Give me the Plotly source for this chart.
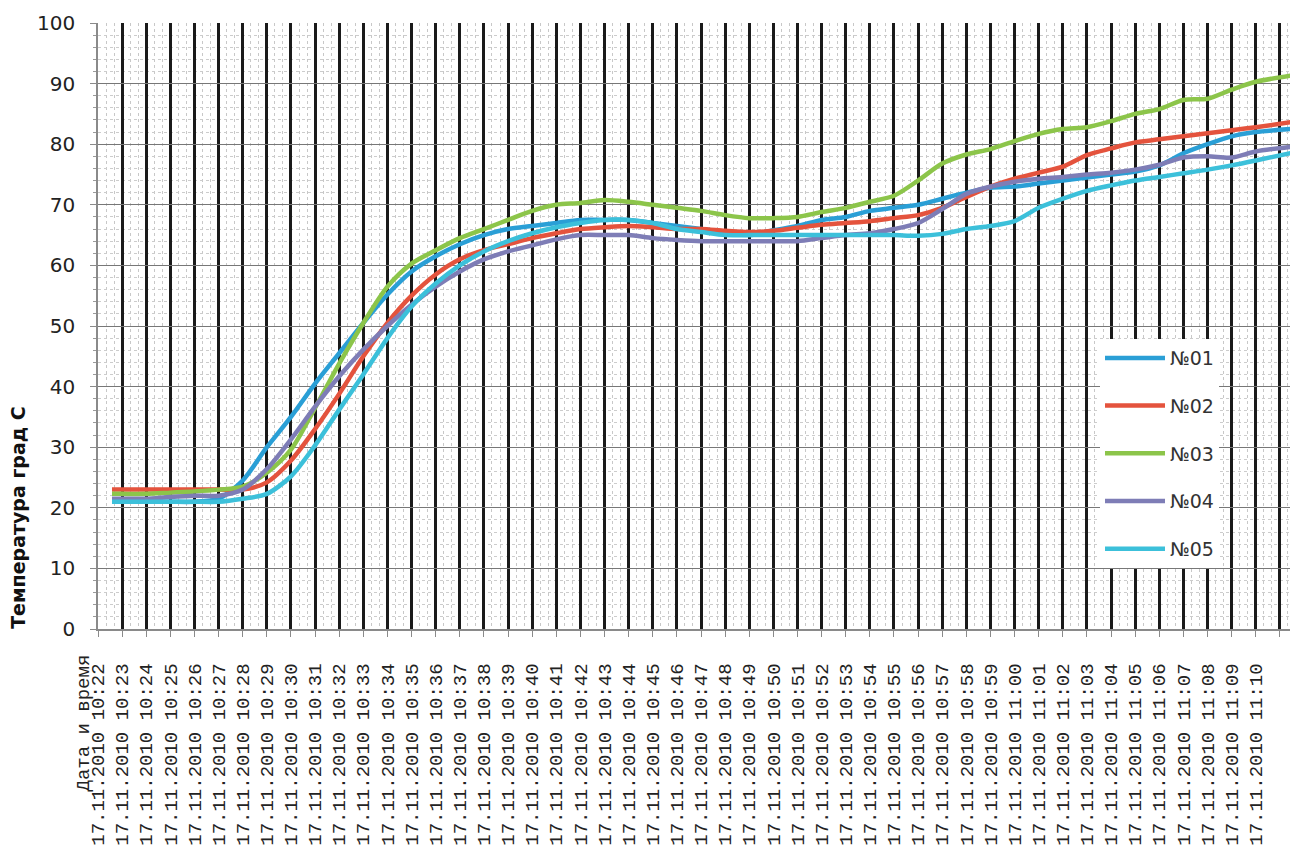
import plotly.graph_objects as go

# category labels (one per minute, 10:22 .. 11:10)
time_labels = ["17.11.2010 10:%02d" % m for m in range(22, 60)] + \
              ["17.11.2010 11:%02d" % m for m in range(0, 11)]
header_label = "Дата и время"

# sample positions (minutes after 10:22) at which the curves were read
sample_pos = [0.58, 1, 2, 3, 4, 5, 6, 7, 8, 9, 10, 11, 12, 13, 14, 15, 16, 17, 18, 19,
              20, 21, 22, 23, 24, 25, 26, 27, 28, 29, 30, 31, 32, 33, 34, 35, 36, 37, 38, 39,
              40, 41, 42, 43, 44, 45, 46, 47, 48, 49.75]

s01 = [21, 21, 21, 21, 21, 21.5, 24.5, 30, 35, 40.5, 45.5, 50.5, 55.2, 59, 61.5, 63.5, 65, 66, 66.5, 67,
       67.5, 67.5, 67.5, 67, 66.5, 66, 65.5, 65, 65.8, 66.5, 67.5, 68, 69, 69.5, 70, 71, 72, 72.8, 73, 73.5,
       74, 74.5, 75, 75.5, 76.5, 78.5, 80, 81.3, 82, 82.6]
s02 = [23, 23, 23, 23, 23, 23, 23, 24.2, 27.8, 33, 38.8, 45, 50.5, 55, 58.5, 61, 62.5, 63.5, 64.5, 65.3,
       66, 66.3, 66.5, 66.3, 66, 66, 65.7, 65.5, 65.7, 66.2, 66.7, 67, 67.3, 67.8, 68.3, 69.5, 71.3, 73, 74.3, 75.3,
       76.3, 78.2, 79.3, 80.3, 80.8, 81.3, 81.8, 82.3, 82.8, 83.8]
s03 = [22.3, 22.3, 22.3, 22.5, 22.7, 23, 23.5, 25.8, 29.6, 36.5, 43.8, 50.5, 56.5, 60.3, 62.5, 64.5, 66, 67.5, 69, 70,
       70.3, 70.8, 70.5, 70, 69.5, 69, 68.3, 67.8, 67.8, 68, 68.8, 69.5, 70.5, 71.5, 74, 76.8, 78.3, 79.2, 80.5, 81.7,
       82.5, 82.8, 83.8, 85, 85.8, 87.3, 87.5, 89, 90.3, 91.5]
s04 = [21.5, 21.5, 21.5, 21.8, 22, 22, 23, 26.4, 31.3, 36.7, 41.7, 46.1, 50, 53.5, 56.5, 59, 61, 62.3, 63.3, 64.3,
       65, 65, 65, 64.5, 64.2, 64, 64, 64, 64, 64, 64.5, 65, 65.3, 66, 67, 69.3, 71.8, 73, 73.8, 74.3,
       74.6, 75, 75.3, 75.8, 76.6, 77.8, 78, 77.8, 78.8, 79.7]
s05 = [21, 21, 21, 21, 21, 21, 21.5, 22.3, 25.2, 30.3, 36.2, 42, 48, 53.2, 57, 60, 62.3, 64, 65.3, 66.3,
       67, 67.5, 67.5, 67, 66, 65.5, 65, 65, 65, 65, 65, 65, 65, 65, 64.9, 65.2, 66, 66.5, 67.3, 69.5,
       71, 72.3, 73.2, 74, 74.6, 75.2, 75.8, 76.5, 77.3, 78.8]

series_names = ["№01", "№02", "№03", "№04", "№05"]
series_values = [s01, s02, s03, s04, s05]
series_colors = ["#2A9FD6", "#E4533D", "#8CC54A", "#7E7DB6", "#3CC0DA"]

y_ticks = list(range(0, 101, 10))

fig = go.Figure()
for name, vals, col in zip(series_names, series_values, series_colors):
    fig.add_trace(go.Scatter(
        x=sample_pos, y=vals, name=name, mode="lines",
        line=dict(color=col, width=4.5, shape="spline", smoothing=0.8),
        legendgroup=name,
    ))

tickvals = list(range(len(time_labels) + 1))
ticktext = time_labels + [""]

# the page body adds an 8px offset, so the figure is 8px smaller and shifted
fig.update_layout(
    width=1290, height=838,
    margin=dict(l=90, r=0, t=15, b=217),
    paper_bgcolor="white", plot_bgcolor="white",
    showlegend=True,
    legend=dict(
        x=0.835, y=0.4785, xanchor="left", yanchor="top",
        bgcolor="white", borderwidth=0,
        font=dict(family="DejaVu Sans", size=19, color="#333333"),
        tracegroupgap=20, itemwidth=60,
    ),
    xaxis=dict(
        range=[0, 49.75],
        tickmode="array", tickvals=tickvals, ticktext=ticktext,
        tickangle=-90,
        tickfont=dict(family="Liberation Mono", size=19, color="#222222"),
        ticks="outside", ticklen=6, tickcolor="#8a8a8a", tickwidth=1,
        ticklabelstandoff=19,
        showline=True, linecolor="#8a8a8a", linewidth=1.5,
        showgrid=True, gridcolor="#1a1a1a", gridwidth=2.5,
        zeroline=False,
        minor=dict(tickmode="linear", tick0=0, dtick=1/3, showgrid=True,
                   gridcolor="#c8c8c8", gridwidth=1, griddash="dot", ticks=""),
    ),
    yaxis=dict(
        range=[0, 100],
        tickmode="array", tickvals=y_ticks,
        tickfont=dict(family="DejaVu Sans", size=20, color="#222222"),
        ticks="outside", ticklen=6, tickcolor="#8a8a8a", tickwidth=1,
        ticklabelstandoff=11,
        showline=True, linecolor="#8a8a8a", linewidth=1.5,
        showgrid=True, gridcolor="#777777", gridwidth=1.4,
        zeroline=False,
        minor=dict(tickmode="linear", tick0=0, dtick=2, showgrid=True,
                   gridcolor="#cccccc", gridwidth=1, griddash="dot",
                   ticks="outside", ticklen=3, tickcolor="#9a9a9a"),
    ),
    annotations=[
        dict(text="<b>Температура град С</b>", xref="paper", yref="paper",
             x=-0.0667, y=0.185, xanchor="center", yanchor="middle",
             textangle=-90, showarrow=False,
             font=dict(family="DejaVu Sans", size=19, color="#111111")),
        dict(text=header_label, xref="paper", yref="paper",
             x=-0.0125, y=0, xanchor="center", yanchor="top", yshift=-24,
             textangle=-90, showarrow=False,
             font=dict(family="Liberation Mono", size=19, color="#222222")),
    ],
)

fig.write_html("out.html")
